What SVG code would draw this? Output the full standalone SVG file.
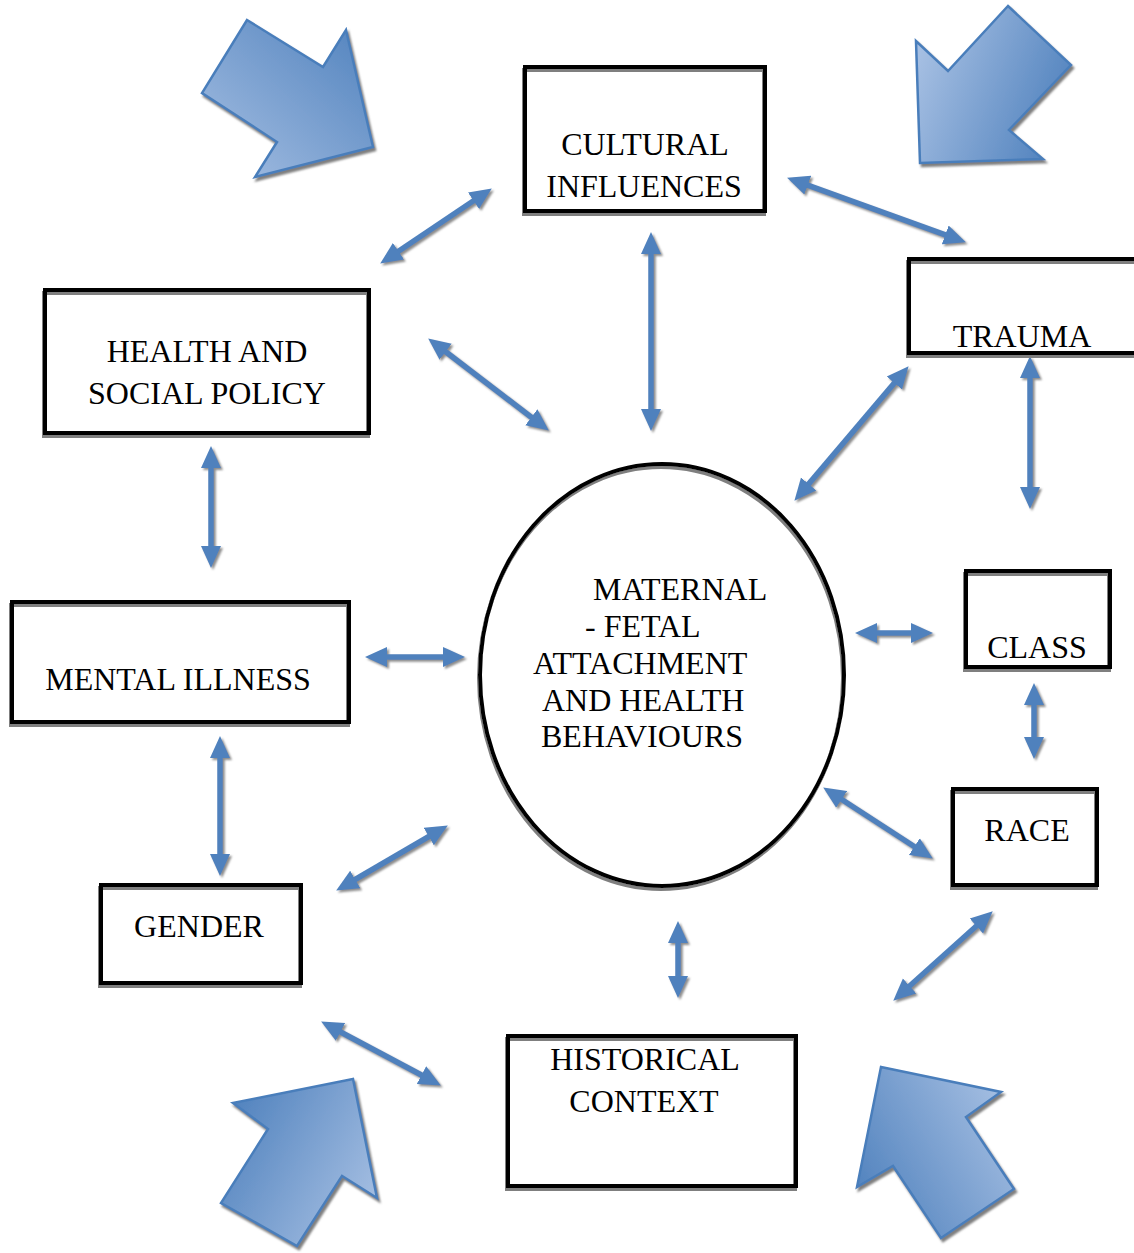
<svg xmlns="http://www.w3.org/2000/svg" width="1134" height="1253" viewBox="0 0 1134 1253">
<style>
.box{fill:none;stroke:#000;stroke-width:4;filter:url(#bshadow)}
.lbl{font-family:"Liberation Serif","Times New Roman",serif;font-size:32px;fill:#000;text-anchor:middle}
.lbs{font-family:"Liberation Serif","Times New Roman",serif;font-size:32px;fill:#000}
.big{stroke:#4a7ebb;stroke-width:2.5;stroke-linejoin:miter;filter:url(#ashadow)}
.con{stroke:#4f81bd;stroke-width:5.5;fill:none;marker-start:url(#head);marker-end:url(#head)}
</style>
<defs>
<filter id="bshadow" x="-10%" y="-10%" width="120%" height="120%"><feDropShadow dx="-1" dy="3" stdDeviation="0.6" flood-color="#7f7f7f"/></filter>
<filter id="ashadow" x="-10%" y="-10%" width="120%" height="120%"><feDropShadow dx="2" dy="3" stdDeviation="0.8" flood-color="#7f7f7f"/></filter>
<filter id="cshadow" x="-20%" y="-20%" width="140%" height="140%"><feDropShadow dx="2" dy="2" stdDeviation="1" flood-color="#8c8c8c"/></filter>
<marker id="head" viewBox="0 0 22 22" markerUnits="userSpaceOnUse" markerWidth="22" markerHeight="22" refX="9" refY="11" orient="auto-start-reverse"><path d="M0,1 L22,11 L0,21 z" fill="#4f81bd"/></marker>
<linearGradient id="g1" x1="1" y1="0" x2="0" y2="1"><stop offset="0" stop-color="#4f81bd"/><stop offset="1" stop-color="#a7c0e3"/></linearGradient>
<linearGradient id="g2" x1="0" y1="0.3" x2="1" y2="0.7"><stop offset="0" stop-color="#a7c0e3"/><stop offset="1" stop-color="#4f81bd"/></linearGradient>
<linearGradient id="g3" x1="0" y1="0.2" x2="1" y2="0.8"><stop offset="0" stop-color="#4f81bd"/><stop offset="1" stop-color="#a7c0e3"/></linearGradient>
<linearGradient id="g4" x1="0" y1="0.8" x2="1" y2="0.2"><stop offset="0" stop-color="#4f81bd"/><stop offset="1" stop-color="#a7c0e3"/></linearGradient>
</defs>
<rect width="1134" height="1253" fill="#fff"/>
<g id="bigarrows">
<polygon class="big" fill="url(#g1)" points="247,20 323,67 346,30 373,147 255,177 277,142 202,93"/>
<polygon class="big" fill="url(#g2)" points="1008,6 1071,65 1009,130 1043,159 920,163 916,41 948,71"/>
<polygon class="big" fill="url(#g3)" points="233,1103 353,1079 377,1198 342,1176 297,1246 221,1203 268,1129"/>
<polygon class="big" fill="url(#g4)" points="881,1067 1001,1092 966,1117 1014,1189 941,1238 893,1166 857,1187"/>
</g>
<g id="connectors" filter="url(#cshadow)">
<line class="con" x1="391" y1="256.3" x2="481" y2="195.7"/>
<line class="con" x1="799.3" y1="182.1" x2="953.7" y2="237.9"/>
<line class="con" x1="651" y1="245" x2="651" y2="418"/>
<line class="con" x1="438.5" y1="346.3" x2="538.5" y2="422.7"/>
<line class="con" x1="900.2" y1="376.1" x2="802.8" y2="490.9"/>
<line class="con" x1="1030" y1="369" x2="1030" y2="496"/>
<line class="con" x1="211" y1="459" x2="211" y2="555"/>
<line class="con" x1="378" y1="657" x2="452" y2="657"/>
<line class="con" x1="868" y1="633" x2="920" y2="633"/>
<line class="con" x1="1034" y1="696" x2="1034" y2="746"/>
<line class="con" x1="834.1" y1="794.5" x2="921.9" y2="851.5"/>
<line class="con" x1="220" y1="749" x2="220" y2="863"/>
<line class="con" x1="347.4" y1="884" x2="436.6" y2="832"/>
<line class="con" x1="678" y1="934" x2="678" y2="985"/>
<line class="con" x1="983.1" y1="920" x2="902.9" y2="992"/>
<line class="con" x1="332.6" y1="1027.7" x2="429.4" y2="1079.3"/>
</g>
<g id="cultural"><rect class="box" x="525" y="67" width="240" height="144"/><text class="lbl" x="645" y="155">CULTURAL</text><text class="lbl" x="644" y="197">INFLUENCES</text></g>
<g id="trauma"><rect class="box" x="909" y="259" width="240" height="94"/><text class="lbl" x="1022" y="347">TRAUMA</text></g>
<g id="health"><rect class="box" x="45" y="290" width="324" height="143"/><text class="lbl" x="207" y="362">HEALTH AND</text><text class="lbl" x="207" y="404">SOCIAL POLICY</text></g>
<g id="mental"><rect class="box" x="12" y="602" width="337" height="120"/><text class="lbl" x="178" y="690">MENTAL ILLNESS</text></g>
<g id="gender"><rect class="box" x="101" y="885" width="200" height="98"/><text class="lbl" x="199" y="937">GENDER</text></g>
<g id="historical"><rect class="box" x="508" y="1036" width="288" height="150"/><text class="lbl" x="645" y="1070">HISTORICAL</text><text class="lbl" x="644" y="1112">CONTEXT</text></g>
<g id="race"><rect class="box" x="953" y="789" width="144" height="96"/><text class="lbl" x="1027" y="841">RACE</text></g>
<g id="class"><rect class="box" x="966" y="571" width="144" height="96"/><text class="lbl" x="1037" y="658">CLASS</text></g>
<g id="center"><ellipse class="box" cx="662" cy="675" rx="182" ry="211"/>
<text class="lbs" x="593" y="600">MATERNAL</text>
<text class="lbs" x="585" y="637">- FETAL</text>
<text class="lbs" x="533" y="674">ATTACHMENT</text>
<text class="lbs" x="542" y="711">AND HEALTH</text>
<text class="lbs" x="541" y="747">BEHAVIOURS</text></g>
</svg>
